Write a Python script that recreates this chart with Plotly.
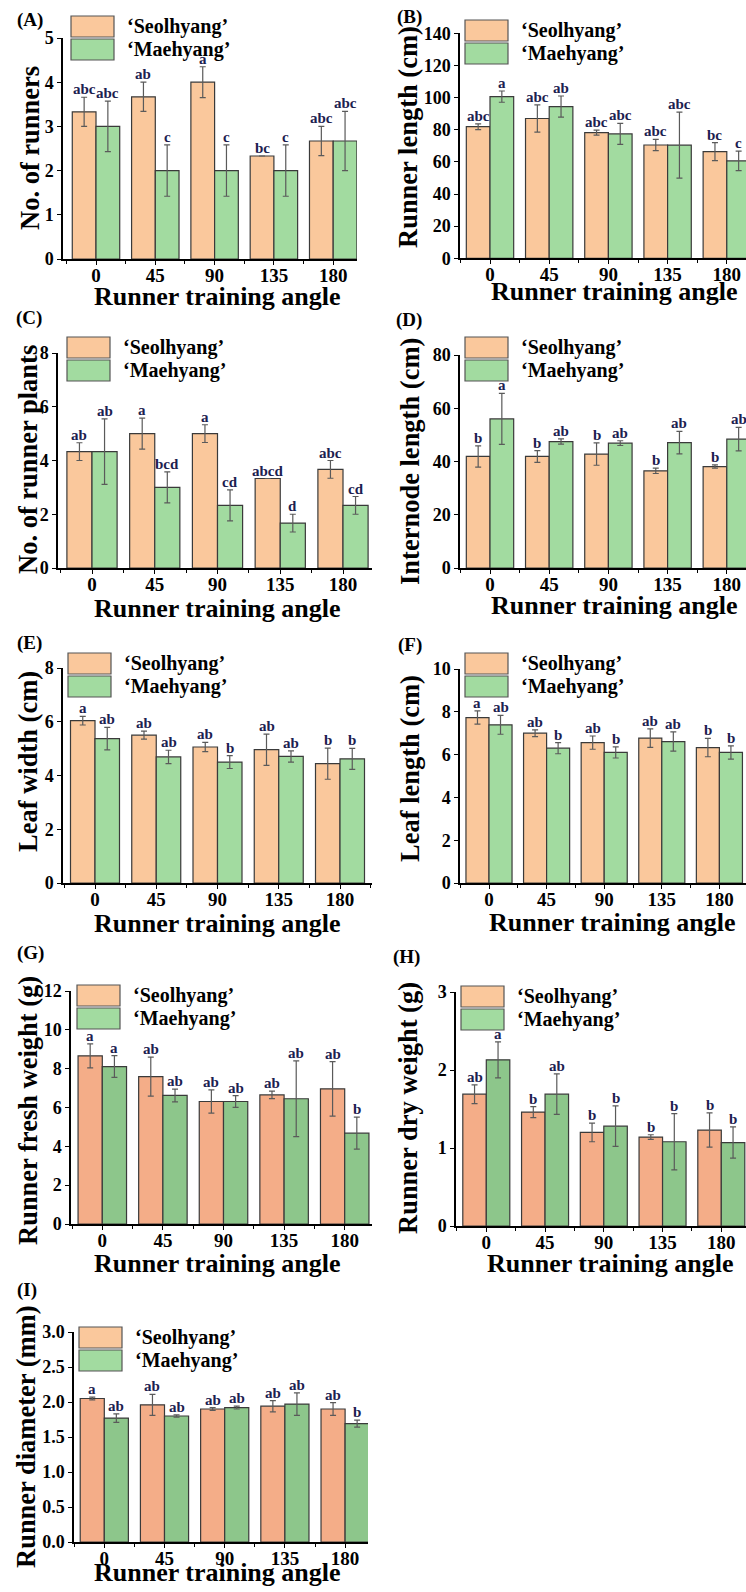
import plotly.graph_objects as go

# ---------------- data ----------------
angles = ["0", "45", "90", "135", "180"]
cultivars = ["‘Seolhyang’", "‘Maehyang’"]

# (A) No. of runners
runners_seol = [3.33, 3.67, 4.00, 2.33, 2.67]
runners_seol_err = [0.33, 0.33, 0.35, 0.0, 0.33]
runners_mae = [3.00, 2.00, 2.00, 2.00, 2.67]
runners_mae_err = [0.57, 0.58, 0.58, 0.58, 0.67]
runners_seol_sig = ["abc", "ab", "a", "bc", "abc"]
runners_mae_sig = ["abc", "c", "c", "c", "abc"]

# (B) Runner length (cm)
rlen_seol = [81.9, 87.0, 78.2, 70.5, 66.4]
rlen_seol_err = [1.8, 8.5, 1.6, 3.5, 5.6]
rlen_mae = [100.6, 94.4, 77.4, 70.4, 60.6]
rlen_mae_err = [3.5, 6.6, 6.5, 20.5, 6.1]
rlen_seol_sig = ["abc", "abc", "abc", "abc", "bc"]
rlen_mae_sig = ["a", "ab", "abc", "abc", "c"]

# (C) No. of runner plants
rplants_seol = [4.33, 5.00, 5.00, 3.33, 3.67]
rplants_seol_err = [0.33, 0.58, 0.33, 0.0, 0.33]
rplants_mae = [4.33, 3.00, 2.33, 1.67, 2.33]
rplants_mae_err = [1.22, 0.58, 0.58, 0.33, 0.33]
rplants_seol_sig = ["ab", "a", "a", "abcd", "abc"]
rplants_mae_sig = ["ab", "bcd", "cd", "d", "cd"]

# (D) Internode length (cm)
inode_seol = [41.9, 41.9, 42.8, 36.5, 38.1]
inode_seol_err = [4.0, 2.2, 4.2, 1.0, 0.6]
inode_mae = [56.0, 47.5, 46.9, 47.1, 48.4]
inode_mae_err = [9.6, 1.0, 0.9, 4.2, 4.4]
inode_seol_sig = ["b", "b", "b", "b", "b"]
inode_mae_sig = ["a", "ab", "ab", "ab", "ab"]

# (E) Leaf width (cm)
lwidth_seol = [6.04, 5.50, 5.06, 4.96, 4.44]
lwidth_seol_err = [0.16, 0.15, 0.17, 0.58, 0.58]
lwidth_mae = [5.37, 4.69, 4.50, 4.71, 4.62]
lwidth_mae_err = [0.42, 0.25, 0.24, 0.21, 0.39]
lwidth_seol_sig = ["a", "ab", "ab", "ab", "b"]
lwidth_mae_sig = ["ab", "ab", "b", "ab", "b"]

# (F) Leaf length (cm)
llen_seol = [7.73, 7.00, 6.56, 6.77, 6.33]
llen_seol_err = [0.31, 0.16, 0.31, 0.43, 0.43]
llen_mae = [7.39, 6.30, 6.10, 6.61, 6.10]
llen_mae_err = [0.44, 0.26, 0.26, 0.45, 0.31]
llen_seol_sig = ["a", "ab", "ab", "ab", "b"]
llen_mae_sig = ["ab", "b", "b", "ab", "b"]

# (G) Runner fresh weight (g)
fw_seol = [8.66, 7.59, 6.31, 6.65, 6.96]
fw_seol_err = [0.62, 1.00, 0.60, 0.19, 1.40]
fw_mae = [8.11, 6.62, 6.31, 6.45, 4.68]
fw_mae_err = [0.56, 0.33, 0.30, 1.95, 0.82]
fw_seol_sig = ["a", "ab", "ab", "ab", "ab"]
fw_mae_sig = ["a", "ab", "ab", "ab", "b"]

# (H) Runner dry weight (g)
dw_seol = [1.69, 1.46, 1.20, 1.14, 1.23]
dw_seol_err = [0.12, 0.07, 0.12, 0.03, 0.22]
dw_mae = [2.13, 1.69, 1.28, 1.08, 1.07]
dw_mae_err = [0.23, 0.26, 0.26, 0.36, 0.20]
dw_seol_sig = ["ab", "b", "b", "b", "b"]
dw_mae_sig = ["a", "ab", "b", "b", "b"]

# (I) Runner diameter (mm)
diam_seol = [2.05, 1.96, 1.90, 1.94, 1.90]
diam_seol_err = [0.02, 0.15, 0.02, 0.08, 0.09]
diam_mae = [1.77, 1.80, 1.92, 1.97, 1.69]
diam_mae_err = [0.06, 0.015, 0.02, 0.16, 0.05]
diam_seol_sig = ["a", "ab", "ab", "ab", "ab"]
diam_mae_sig = ["ab", "ab", "ab", "ab", "b"]

x_title = "Runner training angle"

# ---------------- panel definitions ----------------
panels = [
    dict(tag="(A)", ytitle="No. of runners", ymax=5, dtick=1,
         s=runners_seol, se=runners_seol_err, m=runners_mae, me=runners_mae_err,
         ss=runners_seol_sig, ms=runners_mae_sig),
    dict(tag="(B)", ytitle="Runner length (cm)", ymax=140, dtick=20,
         s=rlen_seol, se=rlen_seol_err, m=rlen_mae, me=rlen_mae_err,
         ss=rlen_seol_sig, ms=rlen_mae_sig),
    dict(tag="(C)", ytitle="No. of runner plants", ymax=8, dtick=2,
         s=rplants_seol, se=rplants_seol_err, m=rplants_mae, me=rplants_mae_err,
         ss=rplants_seol_sig, ms=rplants_mae_sig),
    dict(tag="(D)", ytitle="Internode length (cm)", ymax=80, dtick=20,
         s=inode_seol, se=inode_seol_err, m=inode_mae, me=inode_mae_err,
         ss=inode_seol_sig, ms=inode_mae_sig),
    dict(tag="(E)", ytitle="Leaf width (cm)", ymax=8, dtick=2,
         s=lwidth_seol, se=lwidth_seol_err, m=lwidth_mae, me=lwidth_mae_err,
         ss=lwidth_seol_sig, ms=lwidth_mae_sig),
    dict(tag="(F)", ytitle="Leaf length (cm)", ymax=10, dtick=2,
         s=llen_seol, se=llen_seol_err, m=llen_mae, me=llen_mae_err,
         ss=llen_seol_sig, ms=llen_mae_sig),
    dict(tag="(G)", ytitle="Runner fresh weight (g)", ymax=12, dtick=2,
         s=fw_seol, se=fw_seol_err, m=fw_mae, me=fw_mae_err,
         ss=fw_seol_sig, ms=fw_mae_sig),
    dict(tag="(H)", ytitle="Runner dry weight (g)", ymax=3, dtick=1,
         s=dw_seol, se=dw_seol_err, m=dw_mae, me=dw_mae_err,
         ss=dw_seol_sig, ms=dw_mae_sig),
    dict(tag="(I)", ytitle="Runner diameter (mm)", ymax=3.0, dtick=0.5,
         s=diam_seol, se=diam_seol_err, m=diam_mae, me=diam_mae_err,
         ss=diam_seol_sig, ms=diam_mae_sig),
]

# layout geometry in pixels (left, right, top, bottom, first-group centre, group spacing)
geom = [
    dict(l=63, r=357, t=38, b=259, c0=96, sp=59.3, leg=(71, 16), tag=(15, 20), xt=(217, 296), yt=(30, 148)),
    dict(l=460, r=746, t=33.3, b=258.3, c0=490, sp=59.2, leg=(465, 20), tag=(395, 17), xt=(614, 292), yt=(408, 137)),
    dict(l=58, r=372, t=353, b=568, c0=92, sp=62.75, leg=(67, 337), tag=(14, 318), xt=(217, 608), yt=(28, 460)),
    dict(l=460, r=746, t=355, b=568, c0=490, sp=59.2, leg=(465, 337), tag=(394, 320), xt=(614, 605), yt=(410, 462)),
    dict(l=63, r=372, t=668, b=883, c0=95, sp=61.25, leg=(68, 653), tag=(15, 643), xt=(217, 923), yt=(28, 762)),
    dict(l=460, r=746, t=669, b=883, c0=489, sp=57.6, leg=(465, 653), tag=(396, 645), xt=(612, 922), yt=(410, 769)),
    dict(l=71, r=372, t=991, b=1224, c0=102.3, sp=60.6, leg=(77, 985), tag=(15, 953), xt=(218, 1263), yt=(28, 1111)),
    dict(l=456, r=746, t=992, b=1226, c0=486.3, sp=58.75, leg=(461, 986), tag=(391, 957), xt=(610, 1263), yt=(408, 1108)),
    dict(l=74, r=368, t=1332, b=1542, c0=104.3, sp=60.2, leg=(79, 1327), tag=(15, 1290), xt=(217, 1572), yt=(26, 1437)),
]

W, H = 746, 1592
FONT = "Liberation Serif, Times New Roman, serif"
light_orange, light_green = "#FAC89C", "#A2DBA0"
dark_orange, dark_green = "#F4AD88", "#8DC68B"
edge = "#3a3a3a"
sig_color = "#1c2150"


def px(x):
    return x / W


def py(y):
    return 1 - y / H


fig = go.Figure()
annotations = []
shapes = []
xidx = list(range(len(angles)))
BAR_HALF = 0.2

for k, (p, g) in enumerate(zip(panels, geom)):
    n = "" if k == 0 else str(k + 1)
    xa, ya = "x" + n, "y" + n
    oc, gc = (light_orange, light_green) if k < 6 else (dark_orange, dark_green)
    for vals, errs, col, name in ((p["s"], p["se"], oc, cultivars[0]), (p["m"], p["me"], gc, cultivars[1])):
        fig.add_trace(go.Bar(
            x=xidx, y=vals, name=name, xaxis=xa, yaxis=ya, showlegend=False,
            marker=dict(color=col, line=dict(color=edge, width=1.2)),
            error_y=dict(type="data", array=errs, visible=True, color="#5a5a5a", thickness=1.2, width=3),
        ))
    # significance letters
    for i in xidx:
        for off, vals, errs, sig in ((-BAR_HALF, p["s"], p["se"], p["ss"]), (BAR_HALF, p["m"], p["me"], p["ms"])):
            annotations.append(dict(
                x=i + off, y=vals[i] + errs[i], xref=xa, yref=ya, text=sig[i], showarrow=False,
                yanchor="bottom", xanchor="center", yshift=-2,
                font=dict(family=FONT, size=15, color=sig_color, weight="bold")))
    xr = [(g["l"] - g["c0"]) / g["sp"], (g["r"] - g["c0"]) / g["sp"]]
    axis_common = dict(showline=True, linecolor="black", linewidth=1.5, ticks="outside", ticklen=4,
                       tickwidth=1.2, tickcolor="black", showgrid=False, zeroline=False)
    fig.update_layout(**{
        ("xaxis" + n): dict(domain=[px(g["l"]), px(g["r"])], range=xr, anchor=ya,
                            tickvals=xidx, ticktext=angles, ticklabelstandoff=-6,
                            minor=dict(ticks="outside", dtick=0.5, tick0=0.5, ticklen=3, tickcolor="black"),
                            tickfont=dict(family=FONT, size=19, color="black", weight="bold"),
                            **axis_common),
        ("yaxis" + n): dict(domain=[py(g["b"]), py(g["t"])], range=[0, p["ymax"]], anchor=xa,
                            dtick=p["dtick"], tick0=0, tickformat=".1f" if k == 8 else None,
                            tickfont=dict(family=FONT, size=18, color="black", weight="bold"),
                            **axis_common),
    })
    # legend boxes
    lx, ly = g["leg"]
    for j, (col, name) in enumerate(((light_orange, cultivars[0]), (light_green, cultivars[1]))):
        top = ly + j * 23
        shapes.append(dict(type="rect", xref="paper", yref="paper",
                           x0=px(lx), x1=px(lx + 43), y0=py(top + 21), y1=py(top),
                           fillcolor=col, line=dict(color="#555555", width=1.2)))
        annotations.append(dict(x=px(lx + 54), y=py(top + 10.5), xref="paper", yref="paper", text=name,
                                showarrow=False, xanchor="left", yanchor="middle",
                                font=dict(family=FONT, size=20, color="black", weight="bold")))
    # panel tag
    annotations.append(dict(x=px(g["tag"][0]), y=py(g["tag"][1]), xref="paper", yref="paper", text=p["tag"],
                            showarrow=False, xanchor="left", yanchor="middle",
                            font=dict(family=FONT, size=19, color="black", weight="bold")))
    # axis titles
    annotations.append(dict(x=px(g["xt"][0]), y=py(g["xt"][1]), xref="paper", yref="paper", text=x_title,
                            showarrow=False, xanchor="center", yanchor="middle",
                            font=dict(family=FONT, size=26, color="black", weight="bold")))
    annotations.append(dict(x=px(g["yt"][0]), y=py(g["yt"][1]), xref="paper", yref="paper", text=p["ytitle"],
                            showarrow=False, xanchor="center", yanchor="middle", textangle=-90,
                            font=dict(family=FONT, size=26.5, color="black", weight="bold")))

fig.update_layout(
    width=W, height=H, margin=dict(l=0, r=0, t=0, b=0, autoexpand=False),
    paper_bgcolor="white", plot_bgcolor="white",
    barmode="group", bargap=0.2, bargroupgap=0,
    annotations=annotations, shapes=shapes,
    font=dict(family=FONT, color="black"),
)

fig.write_html("out.html", config={"displayModeBar": False},
               post_script="document.documentElement.style.margin='0';document.body.style.margin='0';document.body.style.padding='0';document.documentElement.style.overflow='hidden';")
